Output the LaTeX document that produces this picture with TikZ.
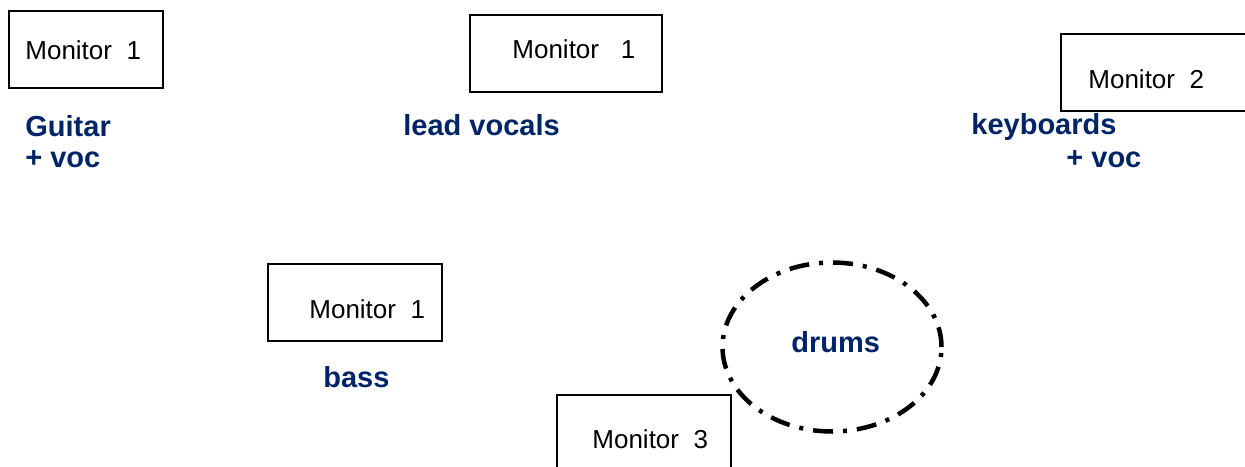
\documentclass[tikz,border=0pt]{standalone}
\usepackage{fontspec}
\setmainfont{Liberation Sans}
\usetikzlibrary{shapes.geometric}
\definecolor{bandblue}{RGB}{0,36,102}

\begin{document}
\begin{tikzpicture}[
      x=0.5pt, y=-0.5pt,
      mon_box/.style={draw, line width=1pt, anchor=north west, inner sep=0pt},
      mon_text/.style={anchor=base west, inner sep=0pt, font=\fontsize{13}{15}\selectfont},
      player/.style={anchor=base west, inner sep=0pt, text=bandblue, font=\fontsize{14.5}{17}\selectfont\bfseries},
      kit_line/.style={line width=2.25pt, dash pattern=on 10pt off 5pt on 2pt off 5pt}
    ]

    % ------------------------------------------------------------------ %
    % Page frame
    % ------------------------------------------------------------------ %

    \useasboundingbox (0,0) rectangle (1245,466);
    \clip (0,0) rectangle (1245,466);

    % ------------------------------------------------------------------ %
    % Monitor boxes
    % ------------------------------------------------------------------ %

    \node[mon_box, minimum width=77pt, minimum height=38.5pt] (mongtr) at (8,10) {};
    \node[mon_box, minimum width=96pt, minimum height=38.5pt] (monvoc) at (469,14) {};
    \node[mon_box, minimum width=100pt, minimum height=38.5pt] (monkey) at (1060,33) {};
    \node[mon_box, minimum width=87pt, minimum height=38.5pt] (monbass) at (267,263) {};
    \node[mon_box, minimum width=87pt, minimum height=45pt] (mondrum) at (556,394) {};

    % monitor labels
    \node[mon_text] (mongtr_t) at (25,59) {Monitor\ \ 1};
    \node[mon_text] (monvoc_t) at (512,58) {Monitor\ \ \ 1};
    \node[mon_text] (monkey_t) at (1088,88) {Monitor\ \ 2};
    \node[mon_text] (monbass_t) at (309,318) {Monitor\ \ 1};
    \node[mon_text] (mondrum_t) at (592,448) {Monitor\ \ 3};

    % ------------------------------------------------------------------ %
    % Players
    % ------------------------------------------------------------------ %

    \node[player] (gtr) at (25,136) {Guitar};
    \node[player] (gtrvoc) at (25,167) {+ voc};
    \node[player] (lead) at (403,135) {lead vocals};
    \node[player] (keys) at (971,134) {keyboards};
    \node[player] (keysvoc) at (1066,167) {+ voc};
    \node[player] (bass) at (323,387) {bass};

    % drum kit
    \node[kit_line, draw, ellipse, minimum width=109.5pt, minimum height=84.5pt, inner sep=0pt] (kit) at (832,347) {};
    \node[player] (drums) at (791,352) {drums};

    \end{tikzpicture}
\end{document}
